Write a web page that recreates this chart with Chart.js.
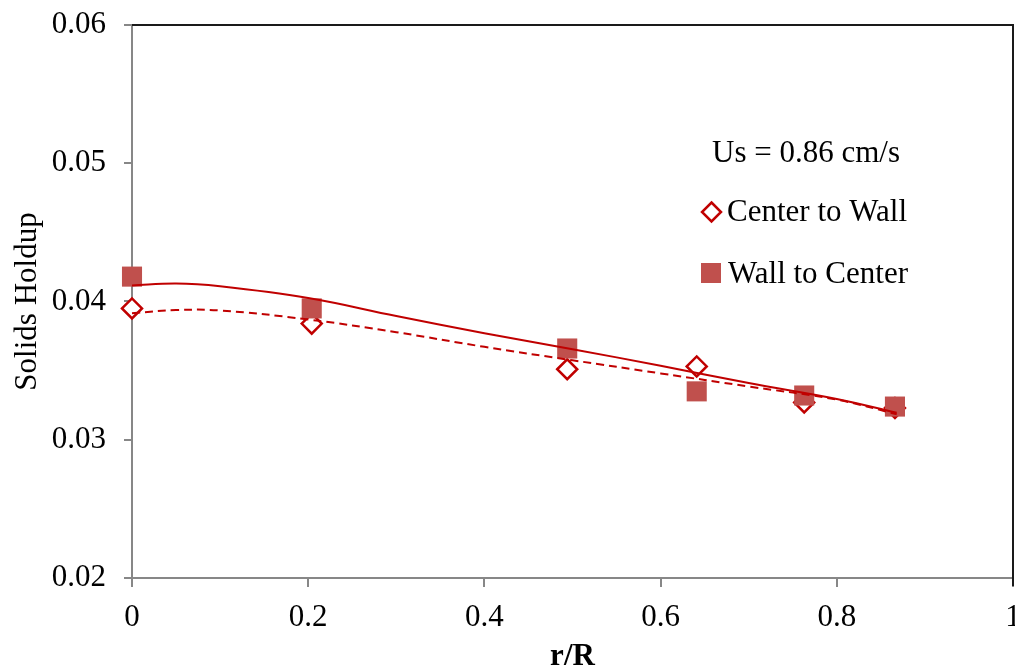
<!DOCTYPE html>
<html>
<head>
<meta charset="utf-8">
<title>Solids Holdup vs r/R</title>
<script src="https://cdn.jsdelivr.net/npm/chart.js@4/dist/chart.umd.min.js"></script>
<style>
  html, body { margin: 0; padding: 0; background: #fff; }
  #holdup-chart { display: block; }
</style>
</head>
<body>
<canvas id="holdup-chart" width="1015" height="666"></canvas>
<script>
// Radial positions of the measurements
const radialPos = [0, 0.204, 0.494, 0.641, 0.763, 0.866];
// Solids holdup, probe traversed center -> wall and wall -> center
const centerToWall = [0.0395, 0.0384, 0.0351, 0.0353, 0.0327, 0.0323];
const wallToCenter = [0.0418, 0.0395, 0.0366, 0.0335, 0.0332, 0.0324];

// Trendlines (polynomial fits) sampled along r/R
const trendPos = [0, 0.05, 0.1, 0.2, 0.3, 0.4, 0.5, 0.6, 0.7, 0.8, 0.868];
const wallToCenterFit = [0.04115, 0.04130, 0.04110, 0.04025, 0.03895, 0.03770, 0.03655, 0.03535, 0.03410, 0.03295, 0.03195];
const centerToWallFit = [0.03915, 0.03938, 0.03935, 0.03870, 0.03778, 0.03672, 0.03575, 0.03480, 0.03385, 0.03290, 0.03185];

const xTicks = [0, 0.2, 0.4, 0.6, 0.8, 1];
const yTicks = [0.02, 0.03, 0.04, 0.05, 0.06];
const legendTitle = 'Us = 0.86 cm/s';

const DARK_RED = '#c00000';
const SQUARE_RED = '#c0504d';
const AXIS_GRAY = '#878787';
const FONT = 'Liberation Serif, Times New Roman, serif';

const pairs = (xs, ys) => xs.map((x, i) => ({ x: x, y: ys[i] }));

// top and right frame of the plot, plus the in-plot legend
const framePlugin = {
  id: 'frame',
  afterDraw(chart) {
    const { ctx, chartArea: a } = chart;
    ctx.save();
    ctx.strokeStyle = '#1a1a1a';
    ctx.lineWidth = 2;
    ctx.beginPath();
    ctx.moveTo(a.left, a.top);
    ctx.lineTo(a.right, a.top);
    ctx.lineTo(a.right, a.bottom + 8);
    ctx.stroke();

    ctx.font = '31px ' + FONT;
    ctx.fillStyle = '#000';
    ctx.textBaseline = 'alphabetic';
    ctx.textAlign = 'left';
    ctx.fillText(legendTitle, 712, 162);

    // diamond entry
    ctx.strokeStyle = DARK_RED;
    ctx.lineWidth = 2.5;
    ctx.fillStyle = '#fff';
    ctx.beginPath();
    ctx.moveTo(711.5, 202.5);
    ctx.lineTo(721, 212);
    ctx.lineTo(711.5, 221.5);
    ctx.lineTo(702, 212);
    ctx.closePath();
    ctx.fill();
    ctx.stroke();
    ctx.fillStyle = '#000';
    ctx.fillText(chart.data.datasets[0].label, 727, 221);

    // square entry
    ctx.fillStyle = SQUARE_RED;
    ctx.fillRect(701, 263, 20, 20);
    ctx.fillStyle = '#000';
    ctx.fillText(chart.data.datasets[1].label, 728, 283);
    ctx.restore();
  }
};

new Chart(document.getElementById('holdup-chart'), {
  type: 'scatter',
  data: {
    datasets: [
      {
        label: 'Center to Wall',
        data: pairs(radialPos, centerToWall),
        pointStyle: 'rectRot',
        pointRadius: 10,
        pointBorderWidth: 2.5,
        pointBorderColor: DARK_RED,
        pointBackgroundColor: '#fff',
        showLine: false,
        order: 2
      },
      {
        label: 'Wall to Center',
        data: pairs(radialPos, wallToCenter),
        pointStyle: 'rect',
        pointRadius: 14.2,
        pointBorderWidth: 0,
        pointBackgroundColor: SQUARE_RED,
        showLine: false,
        order: 1
      },
      {
        label: 'Wall to Center fit',
        data: pairs(trendPos, wallToCenterFit),
        showLine: true,
        pointRadius: 0,
        borderColor: DARK_RED,
        borderWidth: 2,
        tension: 0.4,
        order: 0
      },
      {
        label: 'Center to Wall fit',
        data: pairs(trendPos, centerToWallFit),
        showLine: true,
        pointRadius: 0,
        borderColor: DARK_RED,
        borderWidth: 2,
        borderDash: [8, 5],
        tension: 0.4,
        order: 0
      }
    ]
  },
  options: {
    responsive: false,
    animation: false,
    clip: false,
    layout: { autoPadding: false, padding: { top: 25, right: 2, left: 0, bottom: 0 } },
    plugins: {
      legend: { display: false },
      tooltip: { enabled: false }
    },
    scales: {
      x: {
        type: 'linear',
        min: 0,
        max: 1,
        afterBuildTicks: s => { s.ticks = xTicks.map(v => ({ value: v })); },
        afterFit: s => { s.height = 88; s.paddingLeft = 0; s.paddingRight = 0; },
        border: { display: true, color: AXIS_GRAY, width: 2 },
        grid: { drawOnChartArea: false, drawTicks: true, tickLength: 9, color: AXIS_GRAY, lineWidth: 2 },
        ticks: {
          padding: 12,
          color: '#000',
          font: { family: FONT, size: 31 },
          callback: v => String(+v.toFixed(1))
        },
        title: {
          display: true,
          text: 'r/R',
          color: '#000',
          font: { family: FONT, size: 31, weight: 'bold', lineHeight: 0.6 },
          padding: { top: 0, bottom: 0 }
        }
      },
      y: {
        type: 'linear',
        min: 0.02,
        max: 0.06,
        afterBuildTicks: s => { s.ticks = yTicks.map(v => ({ value: v })); },
        afterFit: s => { s.width = 132; s.paddingTop = 0; s.paddingBottom = 0; },
        border: { display: true, color: AXIS_GRAY, width: 2 },
        grid: { drawOnChartArea: false, drawTicks: true, tickLength: 8, color: AXIS_GRAY, lineWidth: 2 },
        ticks: {
          padding: 18,
          color: '#000',
          font: { family: FONT, size: 31 },
          callback: v => v.toFixed(2)
        },
        title: {
          display: true,
          text: 'Solids Holdup',
          color: '#000',
          font: { family: FONT, size: 31 },
          padding: { top: 9, bottom: 0 }
        }
      }
    }
  },
  plugins: [framePlugin]
});
</script>
</body>
</html>
